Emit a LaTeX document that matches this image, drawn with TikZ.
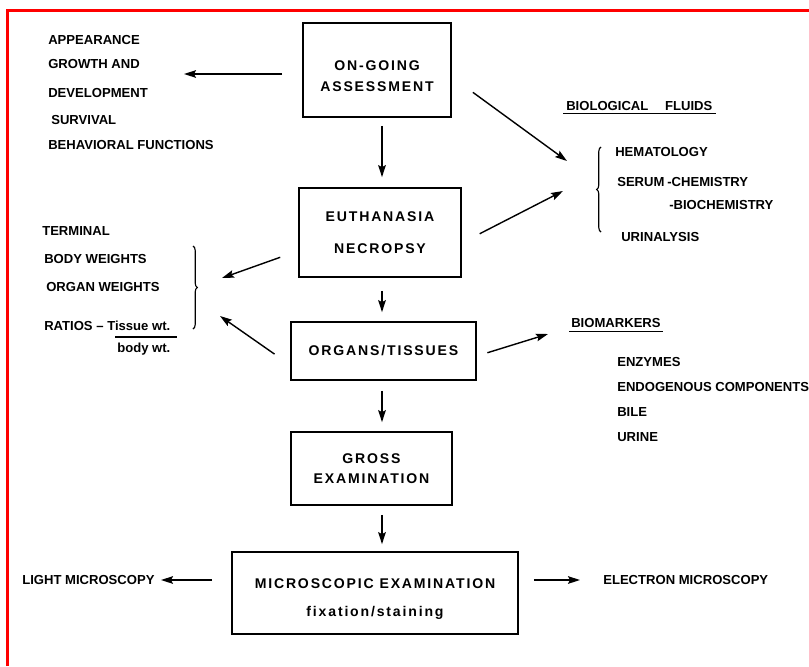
\documentclass[tikz,border=0pt]{standalone}
\usepackage{fontspec}
\setmainfont{Liberation Sans}
\newfontfamily\stagefont[LetterSpace=13]{Liberation Sans}
\usetikzlibrary{arrows.meta,decorations.pathreplacing}

\begin{document}
\begin{tikzpicture}[
    x=0.025cm, y=-0.025cm,
    >={Stealth[length=0.3cm,width=0.19cm,inset=0.05cm]},
    font=\fontsize{9.3}{11}\selectfont\bfseries,
    % Styles
    stagebox/.style={
        rectangle, draw=black, line width=1.2pt,
        font=\stagefont\bfseries\fontsize{10}{12}\selectfont,
        align=center, inner sep=0pt
    },
    itemtext/.style={anchor=west, inner sep=0pt, text height=6.7pt, text depth=0pt},
    flowarrow/.style={->, line width=1pt},
    groupbrace/.style={decorate, decoration={brace, amplitude=0.11cm}, line width=0.8pt},
    underbar/.style={line width=0.9pt},
]

\useasboundingbox (0,0) rectangle (809,666);

%--- Frame ---%
\draw[red, line width=1.9pt] (7.5,666) -- (7.5,10.5) -- (809,10.5);

%--- Stage boxes ---%
% first line of the top and bottom box sits a bit low in its frame
\node[stagebox, minimum width=3.7cm,  minimum height=2.35cm]  (assess) at (377,70)    {\rule{0pt}{15.7pt}ON-GOING\\[3.6pt]ASSESSMENT};
\node[stagebox, minimum width=4.05cm, minimum height=2.225cm] (necro)  at (380,232.5) {EUTHANASIA\\[10.7pt]NECROPSY};
\node[stagebox, minimum width=4.625cm, minimum height=1.45cm] (organs) at (383.5,351) {ORGANS/TISSUES};
\node[stagebox, minimum width=4.025cm, minimum height=1.825cm] (gross) at (371.5,468.5) {GROSS\\[2.2pt]EXAMINATION};
\node[stagebox, minimum width=7.15cm, minimum height=2.05cm]  (micro)  at (375,593)   {\rule{0pt}{15.7pt}MICROSCOPIC EXAMINATION\\[7.9pt]fixation/staining};

%--- Main vertical flow ---%
\coordinate (spine) at (382,0);
\draw[flowarrow, shorten <=0.2cm,   shorten >=0.25cm]  (assess.south -| spine) -- (necro.north -| spine);
\draw[flowarrow, shorten <=0.325cm, shorten >=0.225cm] (necro.south -| spine)  -- (organs.north -| spine);
\draw[flowarrow, shorten <=0.25cm,  shorten >=0.225cm] (organs.south -| spine) -- (gross.north -| spine);
\draw[flowarrow, shorten <=0.225cm, shorten >=0.175cm] (gross.south -| spine)  -- (micro.north -| spine);

%--- Observations (left, top) ---%
\node[itemtext] (appear)   at (48,40)  {APPEARANCE};
\node[itemtext] (growth)   at (48,64)  {GROWTH AND};
\node[itemtext] (develop)  at (48,93)  {DEVELOPMENT};
\node[itemtext] (survival) at (51,120) {SURVIVAL};
\node[itemtext] (behave)   at (48,145) {BEHAVIORAL FUNCTIONS};

\coordinate (growthTip) at (184,74);
\draw[flowarrow, shorten <=0.5cm] (assess.west |- growthTip) -- (growthTip);

%--- Biological fluids (right, top) ---%
\node[itemtext] (bioFluids) at (566,106) {BIOLOGICAL\hspace{0.42cm}FLUIDS};
\draw[underbar] ([shift={(-3,2.5)}]bioFluids.south west) -- ([shift={(3,2.5)}]bioFluids.south east);

\draw[groupbrace] (601,232) -- (601,147);
\node[itemtext] (hemat)   at (615,152) {HEMATOLOGY};
\node[itemtext] (serum)   at (617,182) {SERUM};
\node[itemtext] (chem)    at (667,182) {-CHEMISTRY};
\node[itemtext] (biochem) at (669,205) {-BIOCHEMISTRY};
\node[itemtext] (urinal)  at (621,237) {URINALYSIS};

\coordinate (fluidTipA) at (567,161);
\coordinate (fluidTipB) at (563,191);
\draw[flowarrow, shorten <=0.65cm] ([yshift=-0.175cm]assess.east) -- (fluidTipA);
\draw[flowarrow, shorten <=0.5cm]  ([yshift=-0.26cm]necro.east)   -- (fluidTipB);

%--- Terminal weights (left, middle) ---%
\node[itemtext] (terminal) at (42,231) {TERMINAL};
\node[itemtext] (bodyWt)   at (44,259) {BODY WEIGHTS};
\node[itemtext] (organWt)  at (46,287) {ORGAN WEIGHTS};
\node[itemtext] (ratios)   at (44,326) {RATIOS -- Tissue wt.};
\node[itemtext] (ratioDen) at (117,348) {body wt.};
\draw[underbar] (115,337) -- (177,337);

\draw[groupbrace] (193,246) -- (193,329);

\coordinate (weightTipA) at (222,278);
\coordinate (weightTipB) at (220,316);
\draw[flowarrow, shorten <=0.475cm] ([yshift=-0.46cm]necro.west) -- (weightTipA);
\draw[flowarrow, shorten <=0.475cm] ([yshift=-0.35cm]organs.west) -- (weightTipB);

%--- Biomarkers (right, middle) ---%
\node[itemtext] (biomark) at (571,323) {BIOMARKERS};
\draw[underbar] ([shift={(-2,3.3)}]biomark.south west) -- ([shift={(2,3.3)}]biomark.south east);

\node[itemtext] (enzymes) at (617,362) {ENZYMES};
\node[itemtext] (endog)   at (617,387) {ENDOGENOUS COMPONENTS};
\node[itemtext] (bile)    at (617,412) {BILE};
\node[itemtext] (urine)   at (617,437) {URINE};

\coordinate (markerTip) at (548,334);
\draw[flowarrow, shorten <=0.275cm] ([yshift=-0.125cm]organs.east) -- (markerTip);

%--- Microscopy (bottom) ---%
\node[itemtext] (lightMic)    at (22,580)  {LIGHT MICROSCOPY};
\node[itemtext] (electronMic) at (603,580) {ELECTRON MICROSCOPY};

\coordinate (lightTip)    at (161,580);
\coordinate (electronTip) at (580,580);
\draw[flowarrow, shorten <=0.475cm] (micro.west |- lightTip)    -- (lightTip);
\draw[flowarrow, shorten <=0.375cm] (micro.east |- electronTip) -- (electronTip);

\end{tikzpicture}
\end{document}
